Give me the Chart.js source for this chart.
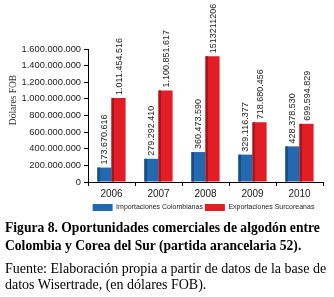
<!DOCTYPE html>
<html>
<head>
<meta charset="utf-8">
<script src="https://cdn.jsdelivr.net/npm/chart.js@4.4.1/dist/chart.umd.min.js"></script>
<style>
  html, body { margin: 0; padding: 0; background: #fff; }
  #wrap { width: 334px; height: 297px; position: relative; overflow: hidden; }
  canvas { display: block; }
  .cap { font-family: "Liberation Serif", serif; color: #000; position: absolute; left: 5px; width: 332px; white-space: nowrap; }
  #fig { top: 219px; font-weight: bold; font-size: 13.6px; line-height: 18px; }
  #src { top: 261px; font-size: 14px; line-height: 16px; }
</style>
</head>
<body>
<div id="wrap">
  <canvas id="c" width="334" height="224"></canvas>
  <div class="cap" id="fig">Figura 8. Oportunidades comerciales de algodón entre<br>Colombia y Corea del Sur (partida arancelaria 52).</div>
  <div class="cap" id="src">Fuente: Elaboración propia a partir de datos de la base de<br>datos Wisertrade, (en dólares FOB).</div>
</div>
<script>
const years = ["2006", "2007", "2008", "2009", "2010"];
const importaciones = [173670616, 279292410, 360473590, 329116377, 428378530];
const exportaciones = [1011454516, 1100851617, 1513211206, 718680456, 699594829];
const importLabels = ["173.670.616", "279.292.410", "360.473.590", "329.116.377", "428.378.530"];
const exportLabels = ["1.011.454.516", "1.100.851.617", "1513211206", "718.680.456", "699.594.829"];
const yTicks = [0, 200000000, 400000000, 600000000, 800000000, 1000000000, 1200000000, 1400000000, 1600000000];

const NARROW = '"Liberation Sans Narrow", "Liberation Sans", Arial, sans-serif';
const fmt = v => String(v).replace(/\B(?=(\d{3})+(?!\d))/g, '.');

const shadePlugin = {
  id: 'shade',
  afterLayout(chart) {
    // shift the (single-row) legend so it sits centred under the plot area
    const lg = chart.legend;
    if (lg) {
      const target = (chart.chartArea.left + chart.chartArea.right) / 2 - 2;
      const d = target - (lg.left + lg.right) / 2;
      lg.left += d; lg.right += d;
    }
  },
  afterDatasetsDraw(chart) {
    const ctx = chart.ctx;
    const shades = ['#174c86', '#a8141a'];
    const labelSets = [importLabels, exportLabels];
    chart.data.datasets.forEach((ds, di) => {
      const meta = chart.getDatasetMeta(di);
      meta.data.forEach((bar, i) => {
        const left = bar.x - bar.width / 2;
        ctx.save();
        ctx.fillStyle = shades[di];
        ctx.fillRect(left, bar.y, 2.5, bar.base - bar.y);
        ctx.restore();
        ctx.save();
        ctx.translate(bar.x + 0.5, bar.y - 3);
        ctx.rotate(-Math.PI / 2);
        ctx.font = '9px ' + NARROW;
        ctx.fillStyle = '#222';
        ctx.textAlign = 'left';
        ctx.textBaseline = 'middle';
        ctx.fillText(labelSets[di][i], 0, 0);
        ctx.restore();
      });
    });
    ctx.save();
    ctx.translate(13, 100);
    ctx.rotate(-Math.PI / 2);
    ctx.font = '9.5px "Liberation Serif", serif';
    ctx.fillStyle = '#333';
    ctx.textAlign = 'center';
    ctx.textBaseline = 'middle';
    ctx.fillText('Dólares FOB', 0, 0);
    ctx.restore();
  }
};

new Chart(document.getElementById('c'), {
  type: 'bar',
  data: {
    labels: years,
    datasets: [
      { label: 'Importaciones Colombianas', data: importaciones, backgroundColor: '#2269b0', categoryPercentage: 0.6, barPercentage: 1.0 },
      { label: 'Exportaciones Surcoreanas', data: exportaciones, backgroundColor: '#e21d26', categoryPercentage: 0.6, barPercentage: 1.0 }
    ]
  },
  options: {
    responsive: false,
    animation: false,
    layout: { padding: { top: 49, right: 11, left: 0, bottom: 3 } },
    plugins: {
      legend: {
        position: 'bottom',
        labels: {
          boxWidth: 20, boxHeight: 7, padding: 2,
          font: { family: NARROW, size: 7 }, color: '#222'
        }
      },
      tooltip: { enabled: false }
    },
    scales: {
      x: {
        grid: { drawOnChartArea: false, drawTicks: true, tickLength: 4, color: '#000', offset: true },
        border: { display: true, color: '#000', width: 1 },
        ticks: { font: { family: NARROW, size: 10 }, color: '#222', padding: 2 }
      },
      y: {
        min: 0, max: 1600000000,
        afterBuildTicks(scale) { scale.ticks = yTicks.map(v => ({ value: v })); },
        afterFit(scale) { scale.width = 88; },
        grid: { drawOnChartArea: false, drawTicks: true, tickLength: 4, color: '#000' },
        border: { display: true, color: '#000', width: 1 },
        ticks: { font: { family: NARROW, size: 9.3 }, color: '#222', padding: 3, callback: v => fmt(v) }
      }
    }
  },
  plugins: [shadePlugin]
});
</script>
</body>
</html>
